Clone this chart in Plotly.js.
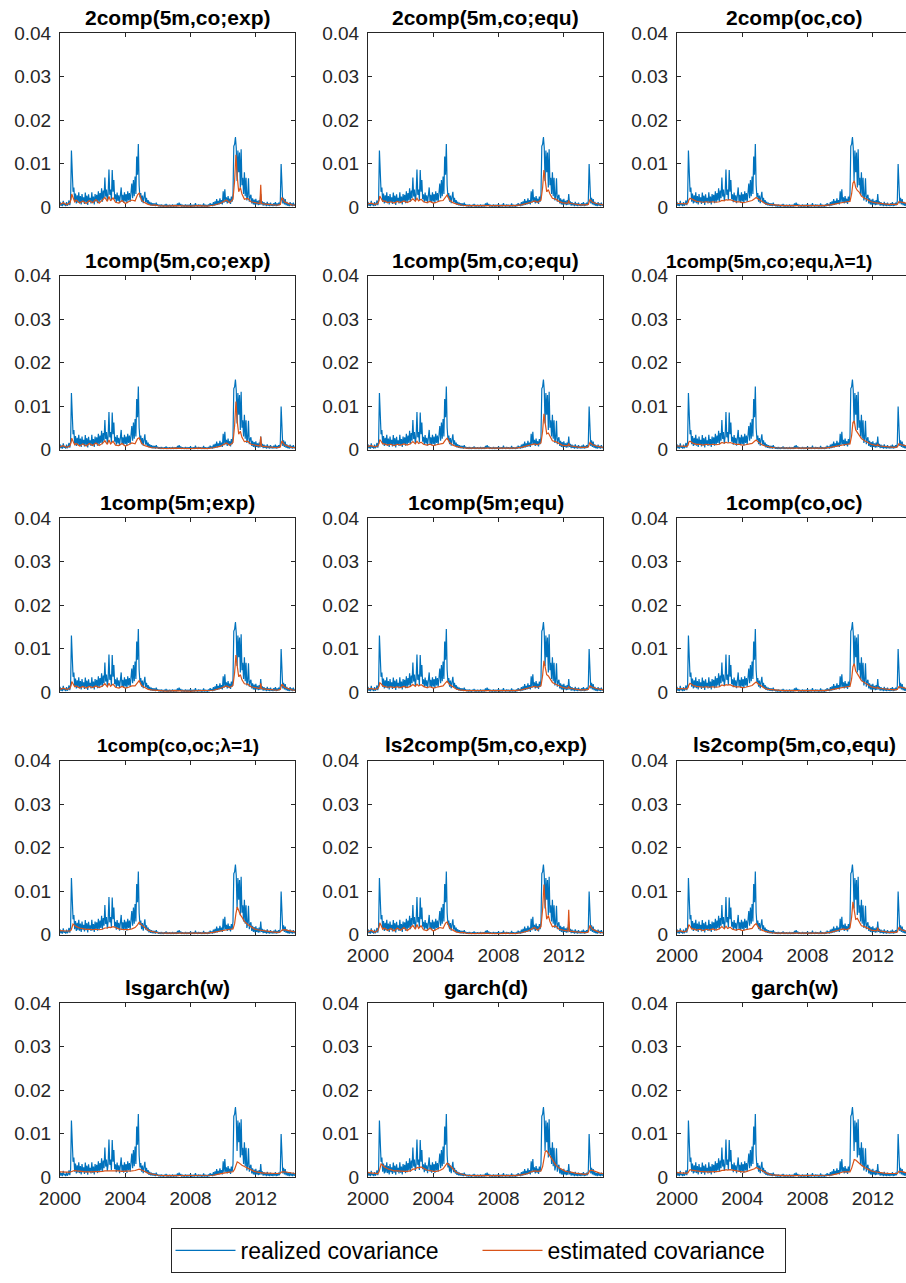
<!DOCTYPE html>
<html><head><meta charset="utf-8">
<script src="https://cdn.plot.ly/plotly-3.0.1.min.js"></script>
<style>html,body{margin:0;padding:0;overflow:hidden;background:#fff}#chart{width:915px;height:1283px}</style>
</head><body><div id="chart"></div>
<script>
// ---------------- DATA ----------------
const panelTitles = [
  '2comp(5m,co;exp)', '2comp(5m,co;equ)', '2comp(oc,co)',
  '1comp(5m,co;exp)', '1comp(5m,co;equ)', '1comp(5m,co;equ,λ=1)',
  '1comp(5m;exp)', '1comp(5m;equ)', '1comp(co,oc)',
  '1comp(co,oc;λ=1)', 'ls2comp(5m,co,exp)', 'ls2comp(5m,co,equ)',
  'lsgarch(w)', 'garch(d)', 'garch(w)'
];
const seriesNames = ['realized covariance', 'estimated covariance'];

// realized covariance, sampled every 0.05 year from 2000.00
const realizedStartYear = 2000;
const realizedStepYears = 0.05;
const realizedCov = [
  .0012,.0003,.0009,.0002,.0014,.0004,.0007,.0002,.0011,.0003,.0006,.0015,.0004,.0018,.0130,.0058,.0035,.0045,.0012,.0031,
  .0008,.0027,.0010,.0034,.0009,.0025,.0006,.0030,.0011,.0022,.0007,.0033,.0010,.0026,.0005,.0029,.0012,.0021,.0008,.0034,
  .0010,.0024,.0006,.0030,.0013,.0028,.0009,.0036,.0011,.0032,.0015,.0043,.0012,.0038,.0020,.0068,.0024,.0040,.0014,.0030,
  .0086,.0028,.0040,.0016,.0085,.0035,.0062,.0018,.0029,.0011,.0033,.0014,.0027,.0009,.0038,.0045,.0012,.0028,.0010,.0034,
  .0013,.0030,.0009,.0036,.0015,.0032,.0012,.0042,.0054,.0020,.0062,.0025,.0070,.0030,.0116,.0074,.0145,.0050,.0022,.0032,
  .0012,.0026,.0009,.0023,.0035,.0011,.0021,.0008,.0016,.0005,.0012,.0004,.0010,.0003,.0009,.0003,.0008,.0002,.0010,.0003,
  .0006,.0002,.0005,.0001,.0006,.0002,.0004,.0001,.0005,.0002,.0007,.0001,.0004,.0002,.0005,.0001,.0004,.0002,.0006,.0001,
  .0004,.0002,.0005,.0001,.0008,.0002,.0010,.0003,.0007,.0001,.0005,.0002,.0004,.0001,.0006,.0002,.0004,.0001,.0005,.0002,
  .0007,.0001,.0004,.0002,.0005,.0001,.0009,.0002,.0004,.0001,.0006,.0002,.0005,.0001,.0004,.0002,.0008,.0001,.0005,.0002,
  .0004,.0001,.0006,.0002,.0009,.0003,.0007,.0002,.0011,.0003,.0013,.0004,.0018,.0005,.0014,.0006,.0020,.0007,.0016,.0006,
  .0036,.0010,.0041,.0012,.0022,.0008,.0025,.0010,.0019,.0007,.0024,.0012,.0030,.0140,.0144,.0161,.0136,.0060,.0130,.0080,
  .0125,.0045,.0133,.0050,.0067,.0030,.0080,.0025,.0067,.0015,.0025,.0066,.0012,.0024,.0028,.0008,.0020,.0006,.0017,.0005,
  .0019,.0006,.0014,.0004,.0016,.0005,.0030,.0006,.0013,.0003,.0011,.0004,.0009,.0002,.0012,.0003,.0008,.0002,.0010,.0003,
  .0007,.0002,.0009,.0003,.0011,.0002,.0008,.0003,.0010,.0004,.0014,.0099,.0020,.0008,.0021,.0006,.0018,.0004,.0012,.0003,
  .0009,.0002,.0011,.0003,.0008,.0002,.0010,.0003,.0006
];

// dates (years) of the estimated-covariance samples
const estDates = [
  2000.0,2000.2,2000.4,2000.6,2000.68,2000.72,2000.8,2000.9,2001.0,2001.2,
  2001.4,2001.6,2001.8,2002.0,2002.2,2002.4,2002.6,2002.75,2002.9,2003.0,
  2003.1,2003.25,2003.4,2003.6,2003.8,2004.0,2004.2,2004.4,2004.6,2004.75,
  2004.85,2005.0,2005.2,2005.4,2005.6,2005.8,2006.0,2006.5,2007.0,2007.5,
  2008.0,2008.5,2009.0,2009.4,2009.8,2010.0,2010.2,2010.4,2010.6,2010.7,
  2010.78,2010.86,2010.95,2011.05,2011.15,2011.3,2011.5,2011.7,2011.9,2012.1,
  2012.25,2012.3,2012.35,2012.45,2012.7,2013.0,2013.3,2013.5,2013.6,2013.75,
  2014.0,2014.2,2014.4
];

const est2compExp = [
  .0006,.0010,.0005,.0009,.0018,.0030,.0022,.0012,.0016,.0009,
  .0014,.0008,.0015,.0010,.0017,.0009,.0016,.0022,.0013,.0024,
  .0014,.0021,.0011,.0009,.0015,.0008,.0012,.0016,.0014,.0028,
  .0032,.0015,.0010,.0006,.0004,.0005,.0003,.0002,.0003,.0002,
  .0002,.0003,.0002,.0004,.0008,.0012,.0016,.0010,.0018,.0060,
  .0120,.0070,.0035,.0045,.0030,.0018,.0020,.0012,.0010,.0008,
  .0008,.0051,.0008,.0007,.0006,.0005,.0004,.0006,.0022,.0012,
  .0008,.0005,.0004];
const est2compEqu = [
  .0007,.0009,.0006,.0008,.0015,.0025,.0020,.0013,.0014,.0010,
  .0012,.0009,.0013,.0010,.0014,.0010,.0014,.0019,.0013,.0020,
  .0014,.0018,.0012,.0010,.0013,.0009,.0011,.0014,.0015,.0024,
  .0028,.0016,.0010,.0007,.0005,.0004,.0003,.0003,.0003,.0002,
  .0003,.0003,.0003,.0005,.0008,.0011,.0014,.0011,.0016,.0045,
  .0085,.0060,.0035,.0040,.0030,.0020,.0018,.0013,.0010,.0009,
  .0009,.0015,.0009,.0008,.0006,.0005,.0005,.0006,.0017,.0011,
  .0008,.0006,.0005];
const est2compOcCo = [
  .0008,.0008,.0007,.0007,.0010,.0016,.0020,.0018,.0016,.0013,
  .0012,.0011,.0012,.0011,.0012,.0011,.0012,.0015,.0014,.0017,
  .0016,.0017,.0015,.0012,.0012,.0010,.0011,.0013,.0015,.0019,
  .0022,.0018,.0012,.0008,.0006,.0005,.0004,.0003,.0003,.0003,
  .0003,.0003,.0003,.0005,.0008,.0010,.0012,.0012,.0013,.0030,
  .0055,.0060,.0045,.0038,.0035,.0025,.0020,.0016,.0012,.0010,
  .0009,.0010,.0009,.0008,.0007,.0006,.0005,.0006,.0012,.0011,
  .0008,.0007,.0006];
const est1comp5mCoExp = [
  .0006,.0009,.0005,.0008,.0016,.0026,.0019,.0011,.0014,.0008,
  .0013,.0008,.0014,.0009,.0015,.0009,.0014,.0020,.0012,.0022,
  .0013,.0019,.0010,.0009,.0014,.0008,.0011,.0015,.0013,.0025,
  .0027,.0014,.0009,.0006,.0004,.0004,.0003,.0002,.0003,.0002,
  .0002,.0003,.0002,.0004,.0007,.0011,.0015,.0010,.0016,.0055,
  .0110,.0065,.0035,.0042,.0028,.0018,.0019,.0012,.0010,.0008,
  .0008,.0030,.0008,.0007,.0006,.0005,.0004,.0006,.0020,.0011,
  .0007,.0005,.0004];
const est1comp5mCoEqu = [
  .0007,.0009,.0006,.0008,.0014,.0023,.0019,.0013,.0013,.0010,
  .0012,.0009,.0012,.0010,.0013,.0010,.0013,.0018,.0013,.0019,
  .0014,.0017,.0012,.0010,.0012,.0009,.0011,.0013,.0014,.0022,
  .0026,.0016,.0010,.0007,.0005,.0004,.0003,.0003,.0003,.0002,
  .0003,.0003,.0003,.0005,.0008,.0011,.0013,.0011,.0015,.0042,
  .0082,.0058,.0036,.0038,.0030,.0020,.0018,.0013,.0010,.0009,
  .0009,.0014,.0009,.0008,.0006,.0005,.0005,.0006,.0016,.0011,
  .0008,.0006,.0005];
const est1comp5mCoEquL1 = [
  .0008,.0008,.0007,.0007,.0010,.0017,.0019,.0016,.0014,.0012,
  .0012,.0010,.0012,.0011,.0012,.0011,.0012,.0016,.0014,.0017,
  .0015,.0016,.0014,.0012,.0012,.0010,.0011,.0013,.0014,.0019,
  .0022,.0017,.0011,.0008,.0006,.0005,.0004,.0003,.0003,.0003,
  .0003,.0003,.0003,.0005,.0008,.0010,.0012,.0012,.0013,.0032,
  .0062,.0066,.0045,.0040,.0035,.0025,.0020,.0015,.0012,.0010,
  .0009,.0012,.0009,.0008,.0007,.0006,.0005,.0006,.0013,.0011,
  .0008,.0007,.0006];
const est1comp5mExp = [
  .0006,.0009,.0006,.0008,.0015,.0024,.0019,.0012,.0014,.0009,
  .0013,.0009,.0013,.0010,.0014,.0010,.0014,.0019,.0012,.0020,
  .0013,.0018,.0011,.0009,.0013,.0009,.0011,.0014,.0014,.0023,
  .0026,.0015,.0010,.0006,.0005,.0004,.0003,.0002,.0003,.0002,
  .0002,.0003,.0003,.0004,.0008,.0011,.0014,.0010,.0015,.0045,
  .0085,.0060,.0035,.0040,.0028,.0019,.0018,.0012,.0010,.0008,
  .0008,.0020,.0008,.0007,.0006,.0005,.0004,.0006,.0018,.0011,
  .0007,.0005,.0004];
const est1comp5mEqu = [
  .0007,.0008,.0006,.0008,.0013,.0021,.0019,.0014,.0013,.0011,
  .0012,.0010,.0012,.0010,.0013,.0010,.0013,.0017,.0013,.0018,
  .0014,.0017,.0013,.0010,.0012,.0009,.0011,.0013,.0014,.0021,
  .0025,.0017,.0011,.0007,.0005,.0004,.0003,.0003,.0003,.0002,
  .0003,.0003,.0003,.0005,.0008,.0011,.0013,.0011,.0014,.0038,
  .0072,.0060,.0040,.0037,.0032,.0022,.0018,.0014,.0011,.0009,
  .0009,.0012,.0009,.0008,.0006,.0005,.0005,.0006,.0014,.0011,
  .0008,.0006,.0005];
const est1compCoOc = [
  .0008,.0008,.0007,.0007,.0010,.0016,.0020,.0017,.0015,.0013,
  .0012,.0011,.0012,.0011,.0012,.0011,.0012,.0016,.0014,.0017,
  .0016,.0017,.0014,.0012,.0012,.0010,.0011,.0013,.0015,.0020,
  .0023,.0018,.0012,.0008,.0006,.0005,.0004,.0003,.0003,.0003,
  .0003,.0003,.0003,.0005,.0008,.0010,.0012,.0012,.0013,.0030,
  .0058,.0065,.0048,.0040,.0036,.0026,.0021,.0016,.0012,.0010,
  .0009,.0011,.0009,.0008,.0007,.0006,.0005,.0006,.0012,.0011,
  .0008,.0007,.0006];
const est1compCoOcL1 = [
  .0009,.0008,.0008,.0008,.0010,.0015,.0024,.0021,.0018,.0015,
  .0013,.0012,.0012,.0011,.0012,.0011,.0012,.0015,.0015,.0017,
  .0016,.0018,.0016,.0013,.0012,.0011,.0011,.0013,.0016,.0022,
  .0028,.0022,.0015,.0010,.0007,.0005,.0004,.0003,.0003,.0003,
  .0003,.0003,.0003,.0005,.0008,.0010,.0012,.0012,.0013,.0025,
  .0048,.0063,.0055,.0045,.0040,.0030,.0023,.0017,.0013,.0011,
  .0010,.0010,.0010,.0009,.0007,.0006,.0005,.0006,.0010,.0011,
  .0009,.0007,.0006];
const estLs2compExp = [
  .0006,.0010,.0005,.0009,.0017,.0027,.0021,.0012,.0015,.0009,
  .0014,.0008,.0015,.0010,.0016,.0009,.0015,.0021,.0012,.0023,
  .0014,.0020,.0011,.0009,.0015,.0008,.0012,.0016,.0014,.0026,
  .0029,.0015,.0010,.0006,.0004,.0005,.0003,.0002,.0003,.0002,
  .0002,.0003,.0002,.0004,.0008,.0012,.0016,.0010,.0018,.0058,
  .0115,.0068,.0035,.0044,.0030,.0018,.0020,.0012,.0010,.0008,
  .0008,.0057,.0008,.0007,.0006,.0005,.0004,.0006,.0021,.0012,
  .0008,.0005,.0004];
const estLs2compEqu = [
  .0007,.0009,.0006,.0008,.0014,.0023,.0019,.0013,.0013,.0010,
  .0012,.0009,.0012,.0010,.0013,.0010,.0013,.0018,.0013,.0019,
  .0014,.0017,.0012,.0010,.0012,.0009,.0011,.0013,.0014,.0022,
  .0025,.0016,.0010,.0007,.0005,.0004,.0003,.0003,.0003,.0002,
  .0003,.0003,.0003,.0005,.0008,.0011,.0013,.0011,.0015,.0040,
  .0075,.0055,.0035,.0037,.0030,.0020,.0018,.0013,.0010,.0009,
  .0009,.0016,.0009,.0008,.0006,.0005,.0005,.0006,.0016,.0011,
  .0008,.0006,.0005];
const estLsgarchW = [
  .0012,.0011,.0011,.0011,.0012,.0013,.0015,.0015,.0014,.0013,
  .0013,.0012,.0012,.0012,.0012,.0012,.0013,.0014,.0014,.0015,
  .0015,.0015,.0015,.0014,.0013,.0013,.0013,.0014,.0015,.0017,
  .0018,.0016,.0012,.0009,.0007,.0005,.0004,.0003,.0003,.0003,
  .0003,.0003,.0003,.0004,.0007,.0009,.0010,.0011,.0012,.0018,
  .0028,.0035,.0033,.0029,.0027,.0024,.0020,.0016,.0013,.0011,
  .0010,.0010,.0010,.0009,.0009,.0008,.0008,.0009,.0012,.0012,
  .0010,.0009,.0008];
const estGarchD = [
  .0010,.0009,.0008,.0008,.0012,.0020,.0030,.0027,.0023,.0019,
  .0016,.0014,.0014,.0013,.0013,.0013,.0014,.0018,.0018,.0022,
  .0021,.0023,.0020,.0016,.0015,.0013,.0013,.0015,.0019,.0026,
  .0032,.0027,.0018,.0011,.0008,.0006,.0004,.0003,.0003,.0003,
  .0003,.0003,.0003,.0005,.0008,.0012,.0014,.0013,.0014,.0024,
  .0045,.0058,.0060,.0054,.0048,.0038,.0028,.0021,.0016,.0013,
  .0012,.0012,.0012,.0011,.0009,.0007,.0006,.0008,.0015,.0015,
  .0011,.0009,.0008];
const estGarchW = [
  .0010,.0009,.0009,.0009,.0010,.0013,.0017,.0016,.0015,.0014,
  .0013,.0012,.0012,.0012,.0012,.0012,.0013,.0015,.0015,.0017,
  .0016,.0017,.0016,.0014,.0013,.0012,.0012,.0014,.0016,.0019,
  .0022,.0019,.0014,.0010,.0007,.0005,.0004,.0003,.0003,.0003,
  .0003,.0003,.0003,.0004,.0007,.0010,.0012,.0012,.0012,.0020,
  .0032,.0040,.0039,.0035,.0032,.0027,.0022,.0017,.0014,.0012,
  .0011,.0011,.0011,.0010,.0009,.0008,.0007,.0008,.0013,.0013,
  .0010,.0009,.0008];

const estimatedByPanel = [
  est2compExp, est2compEqu, est2compOcCo,
  est1comp5mCoExp, est1comp5mCoEqu, est1comp5mCoEquL1,
  est1comp5mExp, est1comp5mEqu, est1compCoOc,
  est1compCoOcL1, estLs2compExp, estLs2compEqu,
  estLsgarchW, estGarchD, estGarchW
];

const xTickVals = [2000, 2004, 2008, 2012];
const xTickText = ['2000', '2004', '2008', '2012'];
const yTickVals = [0, 0.01, 0.02, 0.03, 0.04];
const yTickText = ['0', '0.01', '0.02', '0.03', '0.04'];
const xRange = [2000, 2014.4];
const yRange = [0, 0.04];
// panels whose x tick labels are shown
const showXLabels = [false,false,false, false,false,false, false,false,false, false,true,true, true,true,true];

// ---------------- LAYOUT ----------------
const W = 915, H = 1283;
const colLeft = [60, 368, 677], panelW = 235;
const rowTop = [33, 275.5, 518, 760.5, 1003], panelH = 174;
const blue = '#0072BD', orange = '#D95319', axisCol = '#262626';
const FONT = 'Liberation Sans, Arial, Helvetica, sans-serif';
// title styling per panel (the λ titles are set a little smaller, as in the reference)
const titleSize = k => (panelTitles[k].indexOf('λ') >= 0 ? 19 : 21);
const titleShift = k => (k === 5 ? -26 : 0);

const realizedDates = realizedCov.map((_, i) => realizedStartYear + i * realizedStepYears);

const traces = [];
const layout = {
  width: W, height: H,
  margin: {l: 0, r: 0, t: 0, b: 0},
  paper_bgcolor: '#fff', plot_bgcolor: '#fff',
  font: {family: FONT, color: axisCol},
  showlegend: true,
  legend: {
    orientation: 'h', x: 478 / W, xanchor: 'center', y: 1 - 1228 / H, yanchor: 'top',
    bordercolor: axisCol, borderwidth: 1, bgcolor: '#fff',
    font: {family: FONT, size: 23, color: '#000'},
    entrywidth: 232, itemwidth: 60
  },
  annotations: []
};

panelTitles.forEach((title, k) => {
  const r = Math.floor(k / 3), c = k % 3;
  const sfx = k === 0 ? '' : String(k + 1);
  const xa = 'x' + sfx, ya = 'y' + sfx;
  const x0 = colLeft[c] / W, x1 = (colLeft[c] + panelW) / W;
  const y1 = 1 - rowTop[r] / H, y0 = 1 - (rowTop[r] + panelH) / H;
  layout['xaxis' + sfx] = {
    domain: [x0, x1], anchor: ya, range: xRange, fixedrange: true,
    tickmode: 'array', tickvals: xTickVals, ticktext: xTickText,
    showticklabels: showXLabels[k], ticks: 'inside', ticklen: 4, tickwidth: 1, tickcolor: axisCol,
    showline: true, mirror: 'ticks', linecolor: axisCol, linewidth: 1,
    showgrid: false, zeroline: false, layer: 'below traces',
    ticklabelstandoff: 4,
    tickfont: {family: FONT, size: 19, color: axisCol}
  };
  layout['yaxis' + sfx] = {
    domain: [y0, y1], anchor: xa, range: yRange, fixedrange: true,
    tickmode: 'array', tickvals: yTickVals, ticktext: yTickText,
    ticks: 'inside', ticklen: 4, tickwidth: 1, tickcolor: axisCol,
    showline: true, mirror: 'ticks', linecolor: axisCol, linewidth: 1,
    showgrid: false, zeroline: false, layer: 'below traces',
    ticklabelstandoff: 4,
    tickfont: {family: FONT, size: 19, color: axisCol}
  };
  layout.annotations.push({
    text: '<b>' + title + '</b>', xref: 'paper', yref: 'paper',
    x: (x0 + x1) / 2, y: y1, xanchor: 'center', yanchor: 'bottom', yshift: 2, xshift: titleShift(k),
    showarrow: false, font: {family: FONT, size: titleSize(k), color: '#000'}
  });
  traces.push({
    type: 'scatter', mode: 'lines', x: realizedDates, y: realizedCov,
    xaxis: xa, yaxis: ya, name: seriesNames[0], legendgroup: 'rc', showlegend: k === 0,
    line: {color: blue, width: 1.2}, hoverinfo: 'skip'
  });
  traces.push({
    type: 'scatter', mode: 'lines', x: estDates, y: estimatedByPanel[k],
    xaxis: xa, yaxis: ya, name: seriesNames[1], legendgroup: 'ec', showlegend: k === 0,
    line: {color: orange, width: 1.2}, hoverinfo: 'skip'
  });
});

Plotly.newPlot('chart', traces, layout, {staticPlot: true, displayModeBar: false});
</script>
</body></html>
